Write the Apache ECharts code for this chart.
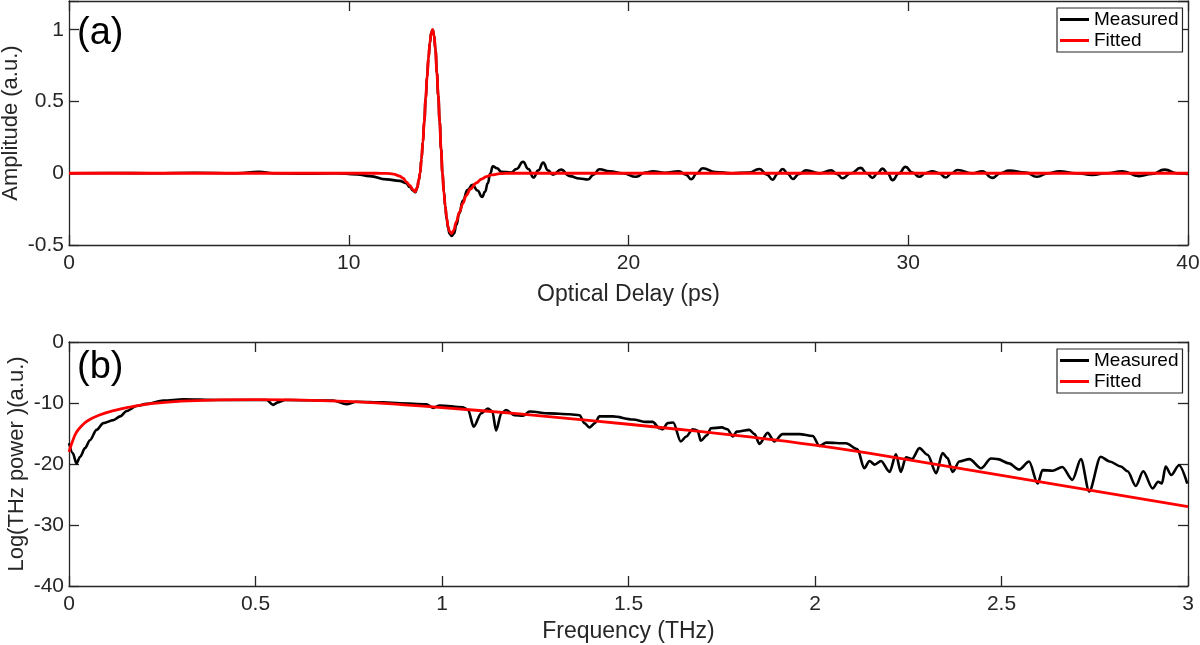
<!DOCTYPE html>
<html>
<head>
<meta charset="utf-8">
<script src="https://cdn.jsdelivr.net/npm/echarts@6/dist/echarts.min.js"></script>
<style>
html,body{margin:0;padding:0;background:#fff;}
#chart{width:1200px;height:645px;}
</style>
</head>
<body>
<div id="chart"></div>
<script>
// ---- Panel (a): time-domain pulse, [delay ps, amplitude a.u.] ----
const measuredPulse = [[0,0],[1.5,0.002],[3,0],[4.5,0.003],[6,0],[6.8,0.01],[7.3,0],[8.5,-0.003],[9.5,0],[10.3,-0.008],
[10.75,-0.02],[11.35,-0.043],[11.82,-0.053],[12.05,-0.07],[12.18,-0.095],[12.3,-0.122],[12.38,-0.132],[12.45,-0.1],[12.5,-0.05],[12.55,0],
[12.6,0.1],[12.65,0.22],[12.7,0.36],[12.75,0.52],[12.8,0.67],[12.85,0.8],[12.9,0.91],[12.95,0.98],[13.0,1.0],[13.05,0.96],
[13.1,0.86],[13.15,0.7],[13.2,0.54],[13.25,0.36],[13.3,0.17],[13.35,0],[13.4,-0.13],[13.45,-0.23],[13.5,-0.32],[13.55,-0.38],
[13.6,-0.42],[13.68,-0.437],[13.76,-0.42],[13.85,-0.36],[13.95,-0.28],[14.08,-0.19],[14.25,-0.115],[14.42,-0.08],[14.6,-0.12],[14.77,-0.165],
[14.87,-0.13],[14.97,-0.07],[15.06,0],[15.15,0.048],[15.3,0.035],[15.45,0.01],[15.8,0.005],[16.0,0.03],[16.23,0.08],[16.42,0.03],
[16.6,-0.03],[16.78,0.02],[16.95,0.074],[17.12,0.02],[17.3,-0.01],[17.59,0.025],[17.9,-0.02],[18.25,-0.037],[18.55,-0.044],[18.75,-0.01],
[18.96,0.028],[19.32,0.014],[19.8,0],[20.27,-0.025],[20.6,0.005],[20.87,0.014],[21.3,0.003],[21.8,0.014],[22.05,-0.01],[22.24,-0.042],
[22.45,0],[22.65,0.035],[23.1,0.008],[23.7,0],[24.3,0.005],[24.68,0.03],[24.95,-0.01],[25.15,-0.045],[25.33,-0.005],[25.51,0.03],
[25.7,-0.005],[25.87,-0.04],[26.1,-0.005],[26.35,0.02],[26.82,0],[27.24,0.02],[27.45,-0.005],[27.65,-0.035],[27.95,0],[28.3,0.037],
[28.52,0],[28.72,-0.032],[28.9,0],[29.08,0.032],[29.26,0],[29.44,-0.048],[29.67,0],[29.9,0.044],[30.15,0.005],[30.39,-0.025],
[30.62,0],[30.86,0.014],[31.1,0],[31.34,-0.03],[31.55,0],[31.76,0.023],[32.3,0],[32.65,0.014],[33.0,-0.032],[33.3,0],
[33.6,0.018],[34.2,0.005],[34.6,-0.025],[35.0,0],[35.4,0.014],[36.0,0],[36.58,-0.012],[37.1,0],[37.65,0.014],[38.25,-0.02],
[38.7,-0.005],[39.17,0.025],[39.6,0],[40,-0.005]];

const fittedPulse = [[0,0],[11.0,0],[11.35,-0.001],[11.6,-0.006],[11.82,-0.02],[11.95,-0.035],[12.06,-0.06],[12.18,-0.085],[12.3,-0.115],[12.38,-0.13],
[12.45,-0.1],[12.5,-0.05],[12.55,0],[12.6,0.1],[12.65,0.22],[12.7,0.36],[12.75,0.52],[12.8,0.67],[12.85,0.8],[12.9,0.91],
[12.95,0.98],[13.0,1.0],[13.05,0.96],[13.1,0.86],[13.15,0.7],[13.2,0.54],[13.25,0.36],[13.3,0.17],[13.35,0],[13.4,-0.13],
[13.45,-0.23],[13.5,-0.31],[13.55,-0.37],[13.6,-0.405],[13.67,-0.42],[13.75,-0.40],[13.84,-0.34],[13.96,-0.27],[14.08,-0.21],[14.2,-0.155],
[14.35,-0.11],[14.56,-0.068],[14.75,-0.04],[14.92,-0.024],[15.1,-0.012],[15.4,-0.003],[15.8,0],[40,0]];

// ---- Panel (b): spectrum, [frequency THz, log power a.u.] ----
const measuredSpectrum = [[0,-16.6],[0.01,-18.2],[0.02,-19.9],[0.03,-18.8],[0.043,-17.4],[0.056,-16.1],[0.074,-14.4],[0.092,-13.3],[0.119,-12.8],[0.137,-12.2],
[0.155,-11.3],[0.181,-10.5],[0.208,-10.15],[0.253,-9.6],[0.306,-9.4],[0.396,-9.5],[0.494,-9.5],[0.53,-9.5],[0.547,-10.3],[0.56,-9.9],
[0.58,-9.5],[0.708,-9.6],[0.744,-10.2],[0.77,-9.8],[0.842,-9.9],[0.887,-10.05],[0.958,-10.2],[0.976,-10.8],[0.994,-10.4],[1.056,-10.7],
[1.07,-11.15],[1.085,-13.9],[1.105,-11.7],[1.123,-10.9],[1.135,-11.4],[1.145,-14.5],[1.159,-11.7],[1.172,-11.15],[1.194,-12.0],[1.217,-12.1],
[1.235,-11.4],[1.288,-11.7],[1.342,-11.85],[1.369,-12.0],[1.382,-13.3],[1.395,-14.0],[1.41,-13.3],[1.422,-12.2],[1.458,-12.2],[1.512,-12.7],
[1.547,-13.1],[1.565,-13.1],[1.583,-14.15],[1.592,-14.3],[1.605,-13.3],[1.62,-13.2],[1.64,-16.3],[1.655,-15.5],[1.672,-14.3],[1.685,-14.5],
[1.694,-16.2],[1.71,-15.3],[1.721,-14.15],[1.75,-14.0],[1.765,-14.3],[1.78,-15.5],[1.79,-14.7],[1.824,-14.4],[1.838,-15.1],[1.851,-16.7],
[1.873,-14.9],[1.891,-16.3],[1.913,-15.1],[1.958,-15.1],[1.994,-15.4],[2.012,-17.05],[2.03,-16.5],[2.083,-16.6],[2.114,-17.6],[2.132,-20.7],
[2.146,-19.5],[2.16,-20.1],[2.177,-19.5],[2.2,-21.3],[2.217,-18.4],[2.23,-21.3],[2.244,-18.9],[2.26,-19.2],[2.28,-17.4],[2.302,-18.5],
[2.325,-21.5],[2.342,-18.2],[2.355,-19.0],[2.369,-21.3],[2.387,-19.6],[2.414,-19.2],[2.445,-20.7],[2.472,-19.1],[2.49,-19.2],[2.52,-19.9],
[2.547,-20.9],[2.574,-19.6],[2.597,-23.2],[2.61,-21.0],[2.637,-21.1],[2.663,-20.5],[2.69,-22.6],[2.713,-19.2],[2.735,-24.5],[2.766,-18.8],
[2.79,-19.6],[2.82,-20.4],[2.838,-21.2],[2.86,-23.6],[2.88,-21.2],[2.905,-24.0],[2.92,-22.9],[2.93,-23.2],[2.94,-20.4],[2.955,-21.8],
[2.976,-20.2],[2.998,-23.2]];

const fittedSpectrum = [[0,-18],[0.01,-16.2],[0.02,-14.8],[0.035,-13.7],[0.05,-12.9],[0.08,-12.0],[0.12,-11.25],[0.17,-10.6],[0.22,-10.1],[0.3,-9.7],
[0.4,-9.5],[0.5,-9.45],[0.6,-9.5],[0.7,-9.65],[0.8,-9.9],[0.9,-10.3],[1.0,-10.75],[1.2,-11.75],[1.4,-12.9],[1.6,-14.1],
[1.8,-15.4],[2.0,-16.9],[2.2,-18.8],[2.4,-20.85],[2.6,-22.9],[2.8,-24.95],[3.0,-27.0]];

const seriesNames = ['Measured', 'Fitted'];
const panelLabels = ['(a)', '(b)'];
const delayTicks = {min: 0, max: 40, interval: 10};
const ampTicks = {min: -0.5, max: 1.2, interval: 0.5};
const freqTicks = {min: 0, max: 3, interval: 0.5};
const powerTicks = {min: -40, max: 0, interval: 10};

const FONT = "'Liberation Sans', Arial, Helvetica, sans-serif";
const AX = '#262626';

function mainX(grid, t, name, gap) {
  return {
    gridIndex: grid, type: 'value', position: 'bottom',
    min: t.min, max: t.max, interval: t.interval,
    axisLine: {show: true, onZero: false, lineStyle: {color: AX, width: 1.3}},
    axisTick: {show: true, inside: true, length: 10, lineStyle: {color: AX, width: 1.3}},
    axisLabel: {show: true, margin: 8, fontSize: 21, color: AX, fontFamily: FONT},
    splitLine: {show: false},
    name: name, nameLocation: 'middle', nameGap: gap, nameMoveOverlap: false,
    nameTextStyle: {fontSize: 23, color: AX, fontFamily: FONT}
  };
}
function mirrorX(grid, t) {
  return {
    gridIndex: grid, type: 'value', position: 'top',
    min: t.min, max: t.max, interval: t.interval,
    axisLine: {show: true, onZero: false, lineStyle: {color: AX, width: 1.3}},
    axisTick: {show: true, inside: true, length: 10, lineStyle: {color: AX, width: 1.3}},
    axisLabel: {show: false}, splitLine: {show: false}
  };
}
function mainY(grid, t, name, gap) {
  return {
    gridIndex: grid, type: 'value', position: 'left',
    min: t.min, max: t.max, interval: t.interval,
    axisLine: {show: true, onZero: false, lineStyle: {color: AX, width: 1.3}},
    axisTick: {show: true, inside: true, length: 10, lineStyle: {color: AX, width: 1.3}},
    axisLabel: {show: true, margin: 5, fontSize: 21, color: AX, fontFamily: FONT,
      formatter: function (v) {
        const k = (v - t.min) / t.interval;
        return Math.abs(k - Math.round(k)) < 1e-6 ? String(v) : '';
      }},
    splitLine: {show: false},
    name: name, nameLocation: 'middle', nameGap: gap, nameMoveOverlap: false,
    nameTextStyle: {fontSize: 22, color: AX, fontFamily: FONT}
  };
}
function mirrorY(grid, t) {
  return {
    gridIndex: grid, type: 'value', position: 'right',
    min: t.min, max: t.max, interval: t.interval,
    axisLine: {show: true, onZero: false, lineStyle: {color: AX, width: 1.3}},
    axisTick: {show: true, inside: true, length: 10, lineStyle: {color: AX, width: 1.3}},
    axisLabel: {show: false}, splitLine: {show: false}
  };
}
function legendAt(top) {
  return {
    data: seriesNames, orient: 'vertical', left: 1057, top: top,
    icon: 'rect', itemWidth: 29, itemHeight: 3, itemGap: 2,
    padding: [2, 4, 2, 3],
    borderColor: AX, borderWidth: 1.2, backgroundColor: '#fff',
    textStyle: {fontSize: 19, color: '#000', fontFamily: FONT},
    selectedMode: false
  };
}

const chart = echarts.init(document.getElementById('chart'), null, {renderer: 'canvas'});
chart.setOption({
  animation: false,
  backgroundColor: '#fff',
  grid: [
    {left: 69, right: 12, top: 1, height: 244, containLabel: false, outerBoundsMode: 'none'},
    {left: 69, right: 12, top: 342, height: 244, containLabel: false, outerBoundsMode: 'none'}
  ],
  xAxis: [
    mainX(0, delayTicks, 'Optical Delay (ps)', 38),
    mirrorX(0, delayTicks),
    mainX(1, freqTicks, 'Frequency (THz)', 34),
    mirrorX(1, freqTicks)
  ],
  yAxis: [
    mainY(0, ampTicks, 'Amplitude (a.u.)', 47),
    mirrorY(0, ampTicks),
    mainY(1, powerTicks, 'Log(THz power )(a.u.)', 41),
    mirrorY(1, powerTicks)
  ],
  legend: [legendAt(8), legendAt(349)],
  graphic: [
    {type: 'text', left: 77, top: 15, z: 10,
      style: {text: panelLabels[0], font: '38px ' + FONT, fill: '#000'}},
    {type: 'text', left: 77, top: 349, z: 10,
      style: {text: panelLabels[1], font: '38px ' + FONT, fill: '#000'}}
  ],
  series: [
    {name: seriesNames[0], type: 'line', xAxisIndex: 0, yAxisIndex: 0, data: measuredPulse,
      showSymbol: false, smooth: 0.5, smoothMonotone: 'x', color: '#000',
      lineStyle: {color: '#000', width: 2.6}, z: 2},
    {name: seriesNames[1], type: 'line', xAxisIndex: 0, yAxisIndex: 0, data: fittedPulse,
      showSymbol: false, smooth: 0.4, smoothMonotone: 'x', color: '#ff0000',
      lineStyle: {color: '#ff0000', width: 2.8}, z: 3},
    {name: seriesNames[0], type: 'line', xAxisIndex: 2, yAxisIndex: 2, data: measuredSpectrum,
      showSymbol: false, smooth: 0.3, smoothMonotone: 'x', color: '#000',
      lineStyle: {color: '#000', width: 2.6}, z: 2},
    {name: seriesNames[1], type: 'line', xAxisIndex: 2, yAxisIndex: 2, data: fittedSpectrum,
      showSymbol: false, smooth: 0.5, color: '#ff0000',
      lineStyle: {color: '#ff0000', width: 2.8}, z: 3}
  ]
});
</script>
</body>
</html>
